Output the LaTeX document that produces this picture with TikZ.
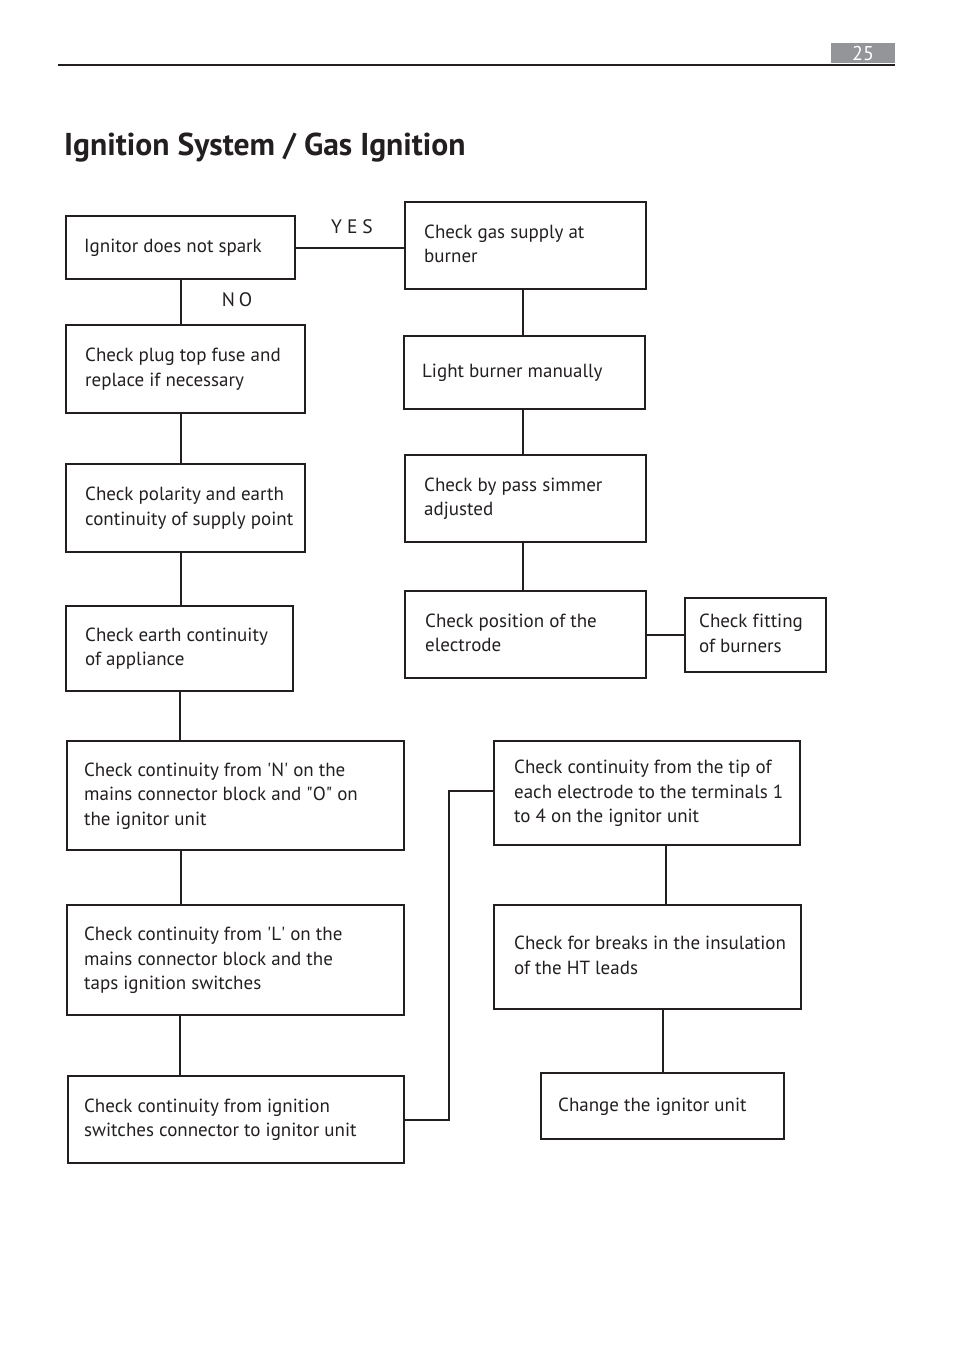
\documentclass[tikz,border=0pt]{standalone}
\usepackage{fontspec}
\setmainfont{PT Sans}
\definecolor{ink}{HTML}{231F20}
\definecolor{pgray}{HTML}{939598}
\newcommand\bxtext[3]{\makebox[#2pt][l]{\hspace*{#1pt}\begin{tabular}{@{}l@{}}#3\end{tabular}}}
\begin{document}
\begin{tikzpicture}[x=1pt,y=-1pt,
  box/.style={draw=ink, line width=2.3pt, inner xsep=0pt, inner ysep=0pt,
    anchor=north west, text=ink, font=\fontsize{19}{24.5}\selectfont},
  conn/.style={draw=ink, line width=2pt},
  lbl/.style={text=ink, font=\fontsize{19.5}{20}\selectfont, inner sep=0pt}]
\useasboundingbox (0,0) rectangle (954,1354);
% header
\node[fill=pgray, minimum width=64pt, minimum height=20pt, inner sep=0pt, text=white,
  font=\fontsize{20}{20}\selectfont] (pg) at (863,53) {25};
\coordinate (hl) at (58,65);
\coordinate (hr) at (895,65);
\draw[ink, line width=1.3pt] (hl) -- (hr);
\node[anchor=base west, inner sep=0pt, text=ink, font=\fontsize{31.6}{34}\selectfont\bfseries] (title) at (64,155) {Ignition System / Gas Ignition};
% left column
\node[box, minimum height=63pt] (ign) at (65,215) {\bxtext{18}{229}{Ignitor does not spark}};
\node[box, minimum height=88pt] (plug) at (65,324) {\bxtext{19}{239}{Check plug top fuse and\\replace if necessary}};
\node[box, minimum height=88pt] (pol) at (65,463) {\bxtext{19}{239}{Check polarity and earth\\continuity of supply point}};
\node[box, minimum height=85pt] (earth) at (65,605) {\bxtext{19}{227}{Check earth continuity\\of appliance}};
\node[box, minimum height=109pt] (nblk) at (66,740) {\bxtext{17}{337}{Check continuity from \textquotesingle N\textquotesingle{} on the\\mains connector block and \textquotedbl O\textquotedbl{} on\\the ignitor unit}};
\node[box, minimum height=110pt] (lblk) at (66,904) {\bxtext{17}{337}{Check continuity from \textquotesingle L\textquotesingle{} on the\\mains connector block and the\\taps ignition switches}};
\node[box, minimum height=87pt] (sw) at (67,1075) {\bxtext{16}{336}{Check continuity from ignition\\switches connector to ignitor unit}};
% right column
\node[box, minimum height=87pt] (gas) at (404,201) {\bxtext{19}{241}{Check gas supply at\\burner}};
\node[box, minimum height=73pt] (light) at (403,335) {\bxtext{18}{241}{Light burner manually}};
\node[box, minimum height=87pt] (bypass) at (404,454) {\bxtext{19}{241}{Check by pass simmer\\adjusted}};
\node[box, minimum height=87pt] (elec) at (404,590) {\bxtext{20}{241}{Check position of the\\electrode}};
\node[box, minimum height=74pt] (fitb) at (684,597) {\bxtext{14}{141}{Check f\/itting\\of burners}};
\node[box, minimum height=104pt] (tip) at (493,740) {\bxtext{20}{306}{Check continuity from the tip of\\each electrode to the terminals 1\\to 4 on the ignitor unit}};
\node[box, minimum height=104pt] (brk) at (493,904) {\bxtext{20}{307}{Check for breaks in the insulation\\of the HT leads}};
\node[box, minimum height=66pt] (chg) at (540,1072) {\bxtext{17}{243}{Change the ignitor unit}};
% connectors
\draw[conn] (ign.east) -- (ign.east -| gas.west);
\node[lbl] (yes) at (352,227) {Y\hspace{5pt}E\hspace{5pt}S};
\draw[conn] (ign.south) -- (ign.south |- plug.north);
\node[lbl] (no) at (237,300) {N\hspace{4pt}O};
\draw[conn] ([xshift=0.5pt]ign.south |- plug.south) -- ([xshift=0.5pt]ign.south |- pol.north);
\draw[conn] ([xshift=0.5pt]ign.south |- pol.south) -- ([xshift=0.5pt]ign.south |- earth.north);
\draw[conn] (earth.south) -- (earth.south |- nblk.north);
\draw[conn] ([xshift=0.5pt]ign.south |- nblk.south) -- ([xshift=0.5pt]ign.south |- lblk.north);
\draw[conn] (earth.south |- lblk.south) -- (earth.south |- sw.north);
\draw[conn, line width=2.6pt] ([xshift=-2.5pt]gas.south) -- ([xshift=-2.5pt]gas.south |- light.north);
\draw[conn, line width=2.6pt] ([xshift=-2.5pt]gas.south |- light.south) -- ([xshift=-2.5pt]gas.south |- bypass.north);
\draw[conn, line width=2.6pt] ([xshift=-2.5pt]gas.south |- bypass.south) -- ([xshift=-2.5pt]gas.south |- elec.north);
\draw[conn] (elec.east) -- (elec.east -| fitb.west);
\coordinate (elb) at (449,791);
\draw[conn] (sw.east) -| (elb) -- (elb -| tip.west);
\draw[conn] ([xshift=19pt]tip.south) -- ([xshift=19pt]tip.south |- brk.north);
\draw[conn] ([xshift=15.5pt]brk.south) -- ([xshift=15.5pt]brk.south |- chg.north);
\end{tikzpicture}
\end{document}
